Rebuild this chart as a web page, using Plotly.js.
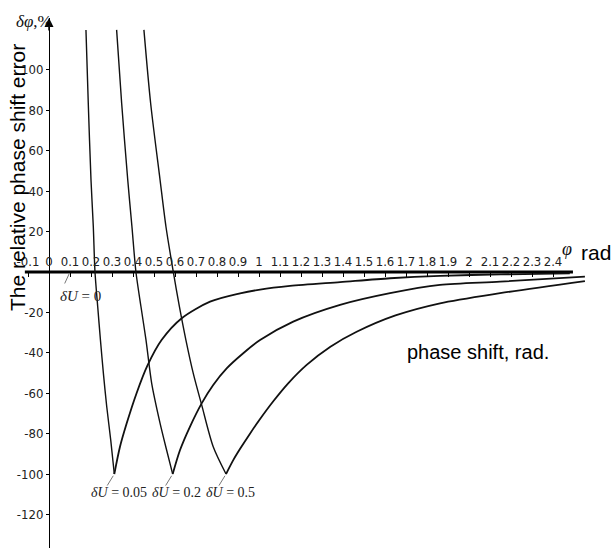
<!DOCTYPE html>
<html>
<head>
<meta charset="utf-8">
<script src="https://cdn.plot.ly/plotly-3.0.1.min.js"></script>
<style>html,body{margin:0;padding:0;background:#fff;}#chart{width:614px;height:548px;}</style>
</head>
<body>
<div id="chart"></div>
<script>
// ---- data ----
const curveLabels = ['δU = 0', 'δU = 0.05', 'δU = 0.2', 'δU = 0.5'];

const phi0 = [-0.115, 2.495];
const err0 = [0, 0];

const phiA = [0.176, 0.187, 0.200, 0.211, 0.219, 0.232, 0.245, 0.259, 0.275, 0.294, 0.311, 0.338, 0.370, 0.417, 0.468, 0.536, 0.632, 0.767, 0.910, 1.005, 1.148, 1.386, 1.624, 1.862, 2.150, 2.480];
const errA = [119.8, 83.5, 45.5, 22.4, 0, -17.2, -33.7, -50.2, -66.7, -83.2, -100, -86.5, -74.9, -60, -46.5, -33.7, -22.9, -14.7, -10.6, -8.7, -6.9, -5.0, -3.1, -1.9, -1.2, -0.7];

const phiB = [0.322, 0.346, 0.375, 0.395, 0.414, 0.438, 0.462, 0.489, 0.529, 0.560, 0.589, 0.624, 0.671, 0.727, 0.782, 0.846, 0.925, 1.005, 1.163, 1.386, 1.624, 1.862, 2.148, 2.552];
const errB = [119.8, 83.5, 45.5, 22.4, 0, -17.2, -33.7, -55.1, -74.9, -88.1, -100, -88.1, -76.6, -65, -55.9, -47.7, -40.2, -33.7, -24.6, -16.3, -10.5, -6.4, -4.8, -2.3];

const phiC = [0.452, 0.484, 0.529, 0.557, 0.592, 0.621, 0.652, 0.687, 0.727, 0.782, 0.843, 0.878, 0.910, 0.957, 1.000, 1.068, 1.140, 1.227, 1.340, 1.465, 1.650, 1.862, 2.148, 2.552];
const errC = [119.8, 83.5, 45.5, 22.4, 0, -17.2, -33.7, -50.2, -65.8, -86.5, -100, -93, -87.5, -80, -73.5, -64, -55, -46, -37, -29.6, -21.5, -15.5, -10.5, -4.5];

const xTickVals = [-0.1, 0, 0.1, 0.2, 0.3, 0.4, 0.5, 0.6, 0.7, 0.8, 0.9, 1, 1.1, 1.2, 1.3, 1.4, 1.5, 1.6, 1.7, 1.8, 1.9, 2, 2.1, 2.2, 2.3, 2.4];
const xTickText = ['-0.1', '0', '0.1', '0.2', '0.3', '0.4', '0.5', '0.6', '0.7', '0.8', '0.9', '1', '1.1', '1.2', '1.3', '1.4', '1.5', '1.6', '1.7', '1.8', '1.9', '2', '2.1', '2.2', '2.3', '2.4'];
const yTickVals = [100, 80, 60, 40, 20, -20, -40, -60, -80, -100, -120];
const yTickText = ['100', '80', '60', '40', '20', '-20', '-40', '-60', '-80', '-100', '-120'];

const yTitle = 'The relative phase shift error';
const xTitle = 'phase shift, rad.';

// ---- chart ----
const XR = [-0.1857, 2.6238];
const YR = [-136.6, 125.7];
const NARROW = "'Liberation Sans Narrow', 'DejaVu Sans Condensed', 'Roboto Condensed', sans-serif";
const SERIF = "'Liberation Serif', 'DejaVu Serif', serif";
const SANS = "'Liberation Sans', Arial, sans-serif";

function minIdx(arr) { let k = 0; arr.forEach((v, i) => { if (v < arr[k]) k = i; }); return k; }
function fmtLabel(s) { return s.replace('δU', '<i>δU</i>'); }

function seg(x, y, name, w) {
  return {x: x, y: y, name: name, type: 'scatter', mode: 'lines',
          line: {color: '#111', width: w, shape: 'spline', smoothing: 0.8}, hoverinfo: 'skip'};
}
const traces = [
  {x: phi0, y: err0, name: curveLabels[0], type: 'scatter', mode: 'lines',
   line: {color: '#000', width: 3}, hoverinfo: 'skip'}
];
[[phiA, errA, 1], [phiB, errB, 2], [phiC, errC, 3]].forEach(([px, py, li]) => {
  const k = minIdx(py);
  traces.push(seg(px.slice(0, k + 1), py.slice(0, k + 1), curveLabels[li], 1.4));
  traces.push(seg(px.slice(k), py.slice(k), curveLabels[li], 1.8));
});

const annotations = [];
// y axis arrowhead
annotations.push({x: 0, y: YR[1], xref: 'x', yref: 'y', ax: 0, ay: 14, text: '', showarrow: true,
  arrowhead: 2, arrowsize: 1.2, arrowwidth: 1.5, arrowcolor: '#000'});
// δU = 0 label
annotations.push({x: 0.1, y: 0, xref: 'x', yref: 'y', ax: -6, ay: 13, text: '', showarrow: true,
  arrowhead: 0, arrowwidth: 1, arrowcolor: '#777', standoff: 2});
annotations.push({x: 0.148, y: -11.9, xref: 'x', yref: 'y', text: fmtLabel(curveLabels[0]), showarrow: false,
  font: {family: SERIF, size: 15, color: '#222'}});
// minimum labels
[[phiA, errA, 1], [phiB, errB, 2], [phiC, errC, 3]].forEach(([px, py, li]) => {
  const k = minIdx(py);
  annotations.push({x: px[k], y: py[k], xref: 'x', yref: 'y', ax: -8, ay: 13, text: '', showarrow: true,
    arrowhead: 0, arrowwidth: 1, arrowcolor: '#777', standoff: 2});
  annotations.push({x: px[k] + 0.02, y: py[k] - 9, xref: 'x', yref: 'y', text: fmtLabel(curveLabels[li]),
    showarrow: false, font: {family: SERIF, size: 14, color: '#222'}});
});
// axis symbols & titles
annotations.push({x: -0.071, y: 123.8, xref: 'x', yref: 'y', text: '<i>δφ</i>,%', showarrow: false,
  font: {family: SERIF, size: 17, color: '#111'}});
annotations.push({x: 2.467, y: 11.4, xref: 'x', yref: 'y', text: '<i>φ</i>', showarrow: false,
  font: {family: SERIF, size: 18, color: '#111'}});
annotations.push({x: 2.605, y: 9.4, xref: 'x', yref: 'y', text: 'rad', showarrow: false,
  font: {family: SANS, size: 21, color: '#000'}});
annotations.push({x: 2.043, y: -39.6, xref: 'x', yref: 'y', text: xTitle, showarrow: false,
  font: {family: SANS, size: 20, color: '#000'}});
annotations.push({x: -0.152, y: 46.5, xref: 'x', yref: 'y', text: yTitle, showarrow: false, textangle: -90,
  font: {family: SANS, size: 21, color: '#000'}});

const posX = (0 - YR[0]) / (YR[1] - YR[0]);
const posY = (0 - XR[0]) / (XR[1] - XR[0]);

const layout = {
  width: 614, height: 548,
  margin: {l: 10, r: 14, t: 18, b: 0, pad: 0},
  paper_bgcolor: '#fff', plot_bgcolor: '#fff',
  showlegend: false,
  xaxis: {range: XR, anchor: 'free', position: posX, side: 'top', showline: false, zeroline: false,
    showgrid: false, ticks: 'inside', ticklen: 4, tickwidth: 1, tickcolor: '#000',
    tickvals: xTickVals, ticktext: xTickText, tickangle: 0, ticklabelstandoff: 3,
    tickfont: {family: NARROW, size: 13, color: '#222'}},
  yaxis: {range: YR, anchor: 'free', position: posY, side: 'left', showline: true, linewidth: 1.5,
    linecolor: '#000', zeroline: false, showgrid: false, ticks: 'outside', ticklen: 3, tickwidth: 1,
    tickcolor: '#000', tickvals: yTickVals, ticktext: yTickText,
    tickfont: {family: NARROW, size: 13, color: '#222'}},
  annotations: annotations
};

Plotly.newPlot('chart', traces, layout, {staticPlot: true, displayModeBar: false});
</script>
</body>
</html>
